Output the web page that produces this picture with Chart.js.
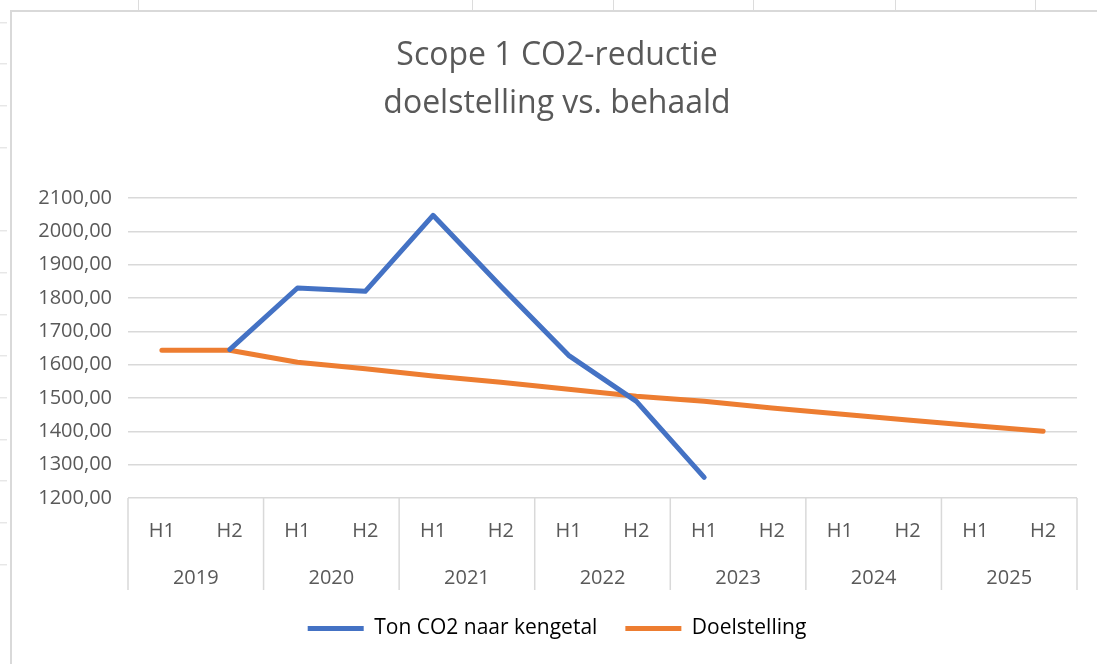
<!DOCTYPE html>
<html>
<head>
<meta charset="utf-8">
<script src="https://cdn.jsdelivr.net/npm/chart.js@4"></script>
<style>
  html, body { margin: 0; padding: 0; background: #fff; }
  body { width: 1097px; height: 664px; position: relative; overflow: hidden; }
  .rows { position: absolute; left: 0; top: 0; width: 7px; height: 664px;
    background: repeating-linear-gradient(to bottom, transparent 0, transparent 40.7px, #dcdcdc 40.7px, #dcdcdc 41.7px);
    background-position: 0 -18.7px; }
  .col { position: absolute; top: 0; width: 1px; height: 10px; background: #dcdcdc; }
  #box { position: absolute; left: 10px; top: 10px; width: 1087px; height: 654px;
    border-left: 2px solid #d9d9d9; border-top: 2px solid #d9d9d9; }
</style>
</head>
<body>
<div class="rows"></div>
<div class="col" style="left:138px"></div>
<div class="col" style="left:472px"></div>
<div class="col" style="left:613px"></div>
<div class="col" style="left:753px"></div>
<div class="col" style="left:895px"></div>
<div class="col" style="left:1035px"></div>
<div id="box"><canvas id="co2Chart"></canvas></div>
<script>
const years = ['2019', '2020', '2021', '2022', '2023', '2024', '2025'];
const halves = ['H1', 'H2', 'H1', 'H2', 'H1', 'H2', 'H1', 'H2', 'H1', 'H2', 'H1', 'H2', 'H1', 'H2'];
const tonCO2 = [null, 1645, 1830, 1820, 2048, 1835, 1628, 1490, 1262, null, null, null, null, null];
const doelstelling = [1643, 1643, 1607, 1588, 1566, 1547, 1526, 1505, 1490, 1470, 1452, 1434, 1417, 1400];
const yMin = 1200;
const yMax = 2100;
const yStep = 100;

const textColor = '#595959';
const gridColor = '#d9d9d9';

Chart.defaults.font.family = "'Open Sans', sans-serif";
Chart.defaults.color = textColor;

// year separators spanning both label rows
const yearLines = {
  id: 'yearLines',
  afterDraw(chart) {
    const x = chart.scales.x;
    const x2 = chart.scales.x2;
    const half = (x.getPixelForValue(1) - x.getPixelForValue(0)) / 2;
    const ctx = chart.ctx;
    ctx.save();
    ctx.strokeStyle = gridColor;
    ctx.lineWidth = 1.5;
    for (let i = 0; i <= years.length; i++) {
      const px = i < years.length ? x.getPixelForValue(i * 2) - half : x.getPixelForValue(halves.length - 1) + half;
      ctx.beginPath();
      ctx.moveTo(px, chart.chartArea.bottom);
      ctx.lineTo(px, x2.bottom);
      ctx.stroke();
    }
    ctx.restore();
  }
};

const ctx = document.getElementById('co2Chart').getContext('2d');
new Chart(ctx, {
  type: 'line',
  data: {
    labels: halves,
    datasets: [{
      label: 'Ton CO2 naar kengetal',
      data: tonCO2,
      borderColor: '#4472C4',
      backgroundColor: '#4472C4',
      borderWidth: 5,
      borderCapStyle: 'round',
      borderJoinStyle: 'round',
      pointRadius: 0,
      tension: 0
    }, {
      label: 'Doelstelling',
      data: doelstelling,
      borderColor: '#ED7D31',
      backgroundColor: '#ED7D31',
      borderWidth: 5,
      borderCapStyle: 'round',
      borderJoinStyle: 'round',
      pointRadius: 0,
      tension: 0
    }]
  },
  options: {
    responsive: true,
    maintainAspectRatio: false,
    animation: false,
    layout: { padding: { left: 25, right: 22, top: 0, bottom: 17 } },
    plugins: {
      title: {
        display: true,
        text: ['Scope 1 CO2-reductie', 'doelstelling vs. behaald'],
        color: textColor,
        font: { size: 32, weight: 'normal', lineHeight: 1.5 },
        padding: { top: 20, bottom: 70 }
      },
      legend: {
        position: 'bottom',
        labels: {
          boxWidth: 56,
          boxHeight: 5,
          padding: 28,
          color: textColor,
          font: { size: 21 },
          generateLabels(chart) {
            return chart.data.datasets.map((ds, i) => ({
              text: ds.label,
              fillStyle: ds.borderColor,
              strokeStyle: ds.borderColor,
              lineWidth: 0,
              datasetIndex: i
            }));
          }
        }
      },
      tooltip: { enabled: false }
    },
    scales: {
      x: {
        type: 'category',
        offset: true,
        grid: { display: false, drawTicks: false },
        border: { display: false },
        ticks: { color: textColor, font: { size: 20 }, padding: 21, maxRotation: 0, autoSkip: false },
        afterFit: s => { s.height = 49; }
      },
      x2: {
        type: 'category',
        position: 'bottom',
        labels: years,
        offset: true,
        grid: { display: false, drawTicks: false },
        border: { display: false },
        ticks: { color: textColor, font: { size: 20 }, padding: 19, maxRotation: 0 },
        afterFit: s => { s.height = 43; }
      },
      y: {
        min: yMin,
        max: yMax,
        ticks: {
          stepSize: yStep,
          color: textColor,
          font: { size: 20 },
          padding: 16,
          callback: v => v.toFixed(2).replace('.', ',')
        },
        grid: { color: gridColor, lineWidth: 1.5, drawTicks: false },
        border: { display: false },
        afterFit: s => { s.width = 91; }
      }
    }
  },
  plugins: [yearLines]
});
</script>
</body>
</html>
